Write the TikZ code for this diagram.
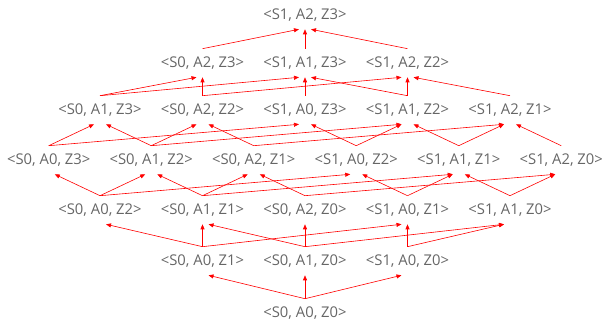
\documentclass[tikz,border=0pt]{standalone}
\usepackage{fontspec}
\setmainfont{Open Sans}
\usetikzlibrary{arrows.meta,calc}
\newcommand{\joinup}[2]{%
  \draw[edge] let \p1=(#1.north), \p2=(#2.south),
    \n1={ifthenelse((\x1)<(\x2-10),-6,ifthenelse((\x1)>(\x2+10),6,0))}
    in (\p1) -- (\x2+\n1,\y2);}
\begin{document}
\begin{tikzpicture}[x=1pt, y=1pt, line width=0.6pt,
  every node/.style={font=\fontsize{14.8}{16}\selectfont, text=black!60, inner sep=0pt, minimum height=28pt},
  edge/.style={red, -{Triangle[length=5pt,width=4pt]}}]
  \useasboundingbox (0,0) rectangle (604,323);
  % states, one row per sum of indices
  \foreach \s/\a/\z/\x/\y in {0/0/0/305/10,
      0/0/1/202.5/62, 0/1/0/305/62, 1/0/0/407.5/62,
      0/0/2/100/113, 0/1/1/202.5/113, 0/2/0/305/113, 1/0/1/407.5/113, 1/1/0/510/113,
      0/0/3/48.75/163, 0/1/2/151.25/163, 0/2/1/253.75/163, 1/0/2/356.25/163, 1/1/1/458.75/163, 1/2/0/561.25/163,
      0/1/3/100/213, 0/2/2/202.5/213, 1/0/3/305/213, 1/1/2/407.5/213, 1/2/1/510/213,
      0/2/3/202.5/260, 1/1/3/305/260, 1/2/2/407.5/260,
      1/2/3/305/308} {
    \node (s\s a\a z\z) at (\x,\y) {<S\s, A\a, Z\z>};
  }
  % one step up in S, A or Z
  \foreach \s in {0,1} \foreach \a in {0,1,2} \foreach \z in {0,1,2,3} {
    \pgfmathtruncatemacro\sn{\s+1}
    \pgfmathtruncatemacro\an{\a+1}
    \pgfmathtruncatemacro\zn{\z+1}
    \ifnum\s<1 \joinup{s\s a\a z\z}{s\sn a\a z\z}\fi
    \ifnum\a<2 \joinup{s\s a\a z\z}{s\s a\an z\z}\fi
    \ifnum\z<3 \joinup{s\s a\a z\z}{s\s a\a z\zn}\fi
  }
\end{tikzpicture}
\end{document}
